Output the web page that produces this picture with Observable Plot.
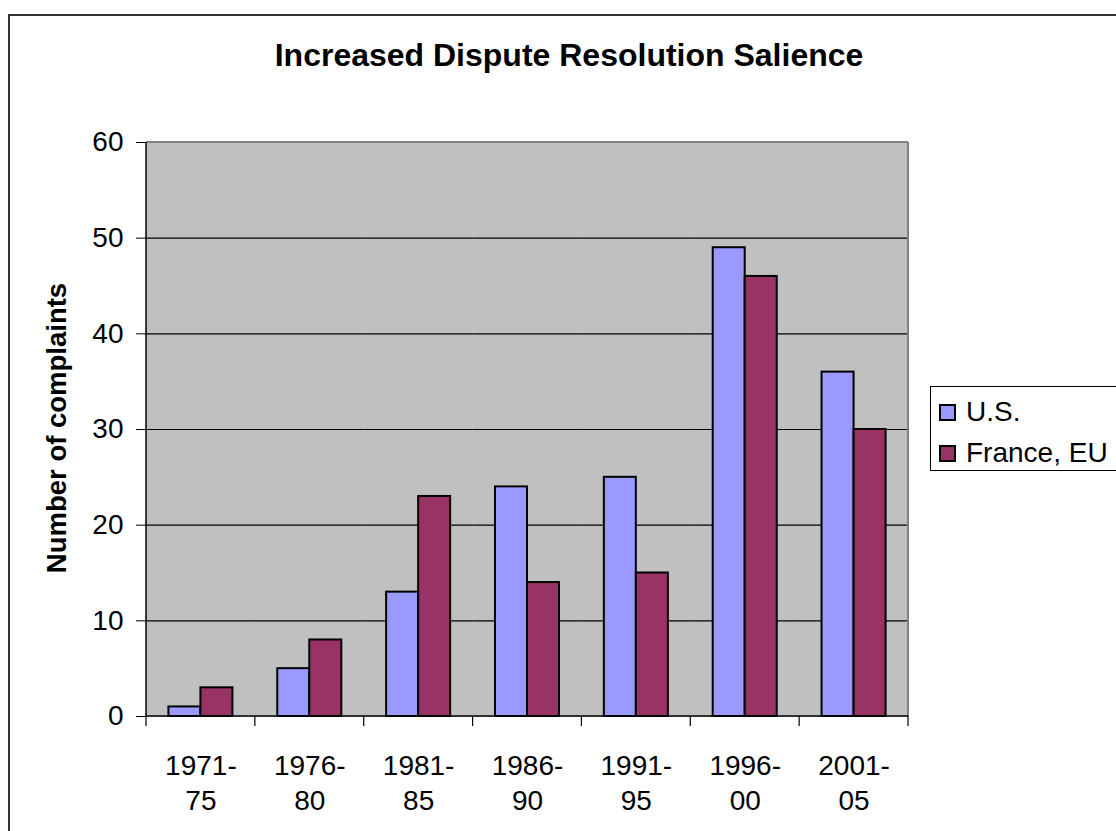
<!DOCTYPE html>
<html>
<head>
<meta charset="utf-8">
<script src="https://cdn.jsdelivr.net/npm/d3@7"></script>
<script src="https://cdn.jsdelivr.net/npm/@observablehq/plot@0.6"></script>
<style>
  html, body { margin: 0; padding: 0; background: #fff; overflow: hidden; }
  #wrap { position: relative; width: 1116px; height: 831px; overflow: hidden; font-family: "Liberation Sans", Arial, sans-serif; }
  #chart { position: absolute; left: 0; top: 0; }
  #border { position: absolute; left: 8px; top: 14px; width: 1200px; height: 900px; border: 2px solid #333; box-sizing: border-box; pointer-events: none; }
  #title { position: absolute; left: 0; width: 1138px; top: 37px; text-align: center; font-weight: bold; font-size: 32px; color: #000; }
  #ylabel { position: absolute; left: 57px; top: 428px; transform: translate(-50%, -50%) rotate(-90deg); font-weight: bold; font-size: 27.5px; white-space: nowrap; color: #000; }
  #legend { position: absolute; left: 930px; top: 386px; width: 240px; height: 85px; border: 1.5px solid #000; box-sizing: border-box; background: #fff; }
  .item { position: absolute; left: 8px; font-size: 28px; line-height: 28px; display: flex; align-items: center; white-space: nowrap; color: #000; }
  .sw { width: 17px; height: 17px; border: 2px solid #000; margin-right: 10px; box-sizing: border-box; }
</style>
</head>
<body>
<div id="wrap">
  <div id="chart"></div>
  <div id="border"></div>
  <div id="title"></div>
  <div id="ylabel"></div>
  <div id="legend"></div>
</div>
<script>
const periods = ["1971-75", "1976-80", "1981-85", "1986-90", "1991-95", "1996-00", "2001-05"];
const series = ["U.S.", "France, EU"];
const usValues = [1, 5, 13, 24, 25, 49, 36];
const euValues = [3, 8, 23, 14, 15, 46, 30];
const seriesColors = ["#9999FF", "#993366"];
const yTicks = [0, 10, 20, 30, 40, 50, 60];
const gridValues = [10, 20, 30, 40, 50];
const titleText = "Increased Dispute Resolution Salience";
const yLabelText = "Number of complaints";

const data = periods.flatMap((p, i) => [
  {period: p, series: series[0], value: usValues[i]},
  {period: p, series: series[1], value: euValues[i]}
]);

const plot = Plot.plot({
  width: 1116,
  height: 831,
  marginLeft: 146,
  marginRight: 208,
  marginTop: 142,
  marginBottom: 115,
  style: {fontFamily: "'Liberation Sans', Arial, sans-serif", fontSize: "28px", background: "transparent", color: "#000"},
  fx: {domain: periods, padding: 0, round: false, axis: null, label: null},
  x: {domain: series, paddingInner: 0, paddingOuter: 0.7, round: false, axis: null},
  y: {domain: [0, 60], ticks: yTicks, tickSize: 10, tickPadding: 13, label: null, line: false},
  color: {domain: series, range: seriesColors},
  marks: [
    Plot.frame({fill: "#C0C0C0", stroke: "#C0C0C0", strokeWidth: 1}),
    Plot.ruleY(gridValues, {stroke: "#000", strokeWidth: 1.2}),
    Plot.barY(data, {fx: "period", x: "series", y: "value", fill: "series", stroke: "#000", strokeWidth: 2}),
    Plot.text(periods, {fx: d => d, text: d => d.replace("-", "-\n"), frameAnchor: "bottom", lineAnchor: "top", dy: 34, fontSize: 28, lineHeight: 1.25, fill: "#000"})
  ]
});
document.getElementById("chart").appendChild(plot);

// plot-area border and category boundary ticks, from Plot's own scales
const fx = plot.scale("fx");
const y = plot.scale("y");
const svg = d3.select(plot);
const left = fx.apply(periods[0]);
const right = fx.apply(periods[periods.length - 1]) + fx.bandwidth;
const y0 = y.apply(0), yTop = y.apply(60);
const g = svg.append("g");
g.append("line").attr("x1", left).attr("x2", right).attr("y1", yTop).attr("y2", yTop).attr("stroke", "#808080").attr("stroke-width", 2);
g.append("line").attr("x1", right).attr("x2", right).attr("y1", yTop).attr("y2", y0).attr("stroke", "#808080").attr("stroke-width", 2);
g.append("line").attr("x1", left).attr("x2", left).attr("y1", yTop).attr("y2", y0).attr("stroke", "#000").attr("stroke-width", 1.5);
g.append("line").attr("x1", left).attr("x2", right).attr("y1", y0).attr("y2", y0).attr("stroke", "#000").attr("stroke-width", 1.5);
const bounds = periods.map(p => fx.apply(p)).concat([right]);
g.selectAll("line.tk").data(bounds).join("line").attr("class", "tk")
  .attr("x1", d => d).attr("x2", d => d).attr("y1", y0).attr("y2", y0 + 10)
  .attr("stroke", "#000").attr("stroke-width", 1.2);

document.getElementById("title").textContent = titleText;
document.getElementById("ylabel").textContent = yLabelText;
const legend = document.getElementById("legend");
series.forEach((s, i) => {
  const item = document.createElement("div");
  item.className = "item";
  item.style.top = (11 + i * 41) + "px";
  const sw = document.createElement("span");
  sw.className = "sw";
  sw.style.background = seriesColors[i];
  const t = document.createElement("span");
  t.textContent = s;
  item.appendChild(sw);
  item.appendChild(t);
  legend.appendChild(item);
});
</script>
</body>
</html>
